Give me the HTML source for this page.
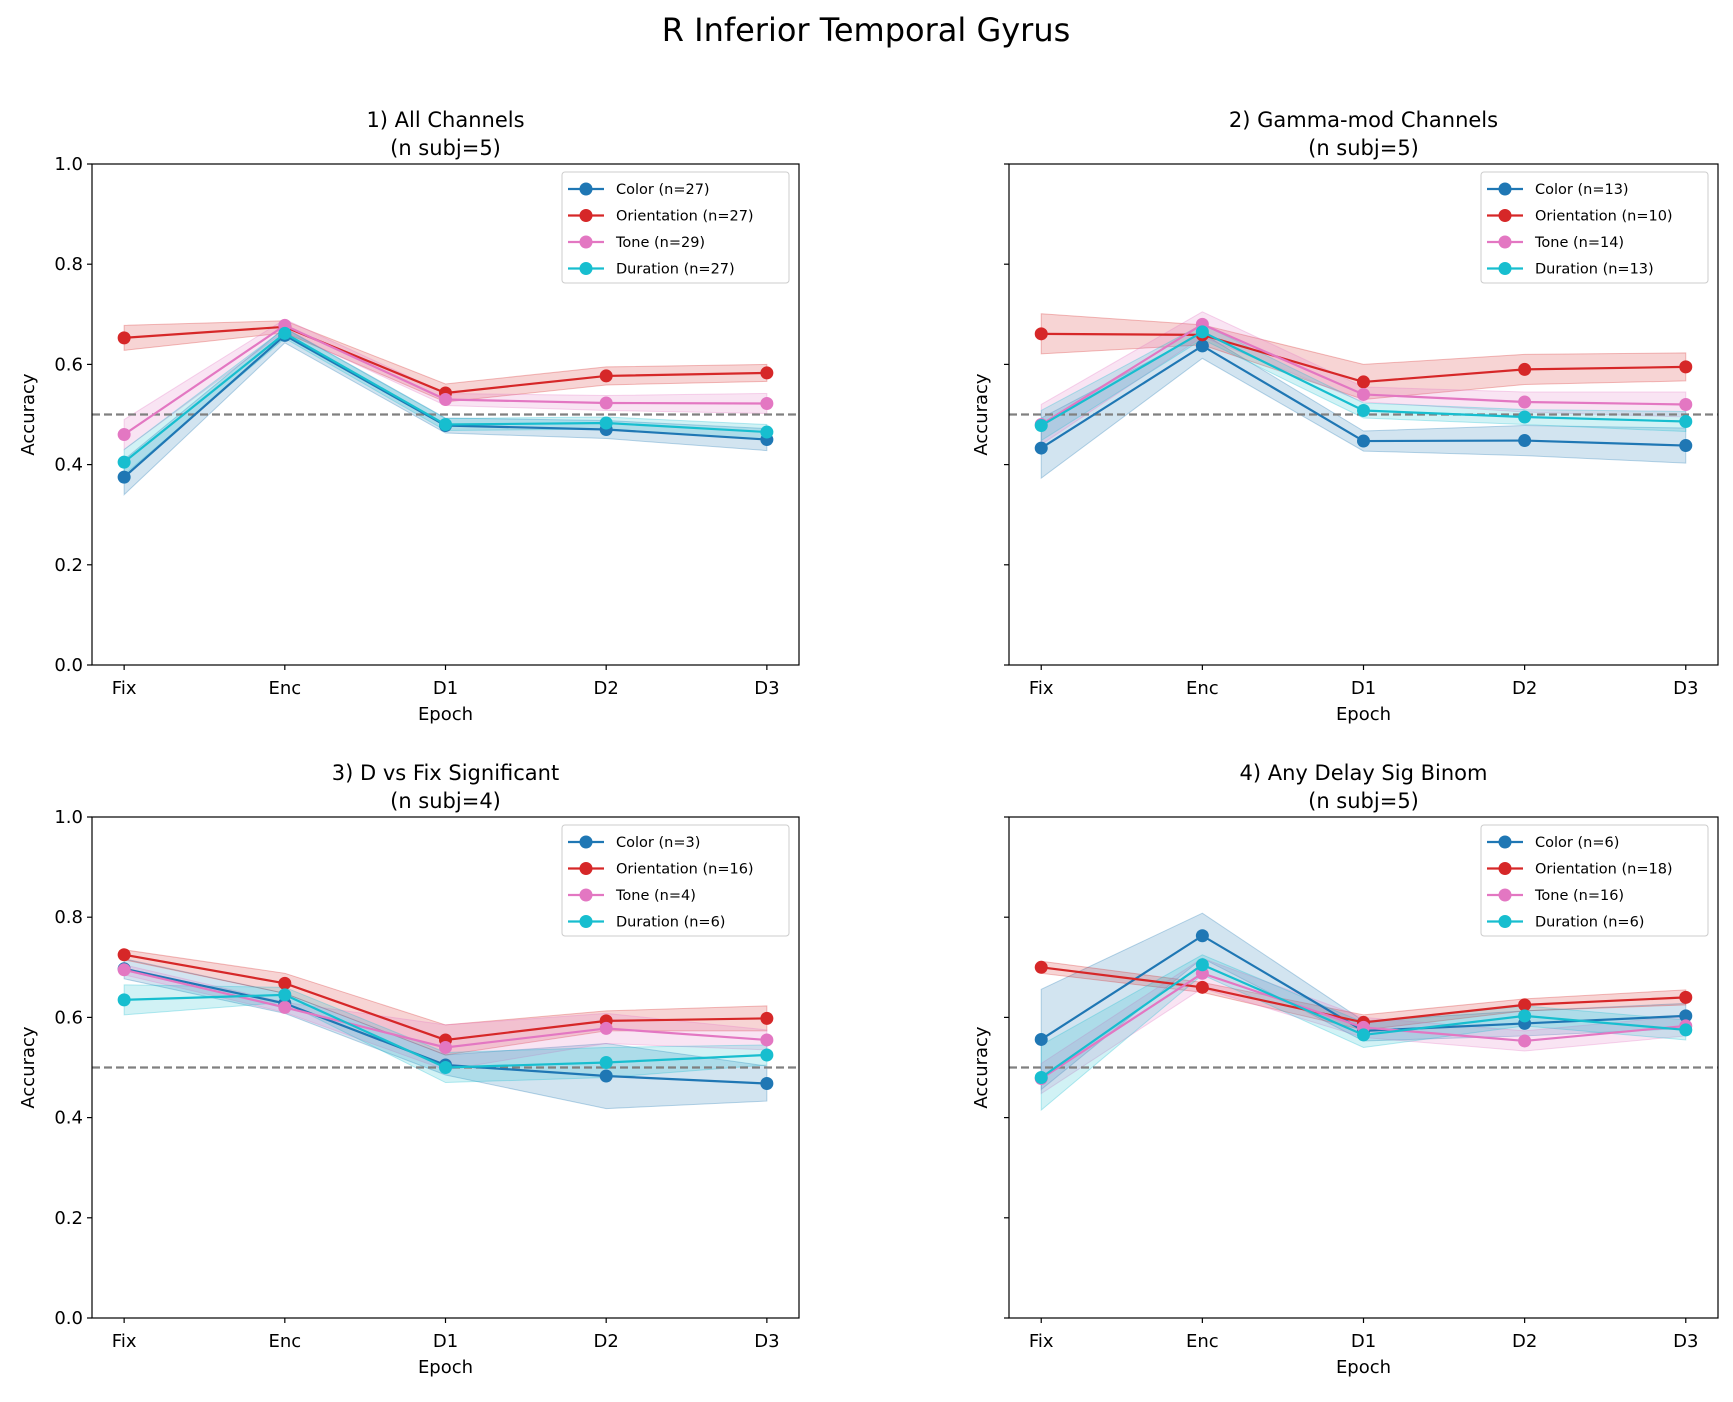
<!DOCTYPE html>
<html><head><meta charset="utf-8"><style>
body{margin:0;background:#fff}
svg text{font-family:"DejaVu Sans","Liberation Sans",sans-serif;fill:#000}
</style></head><body>
<svg id="fig" width="1733" height="1397" viewBox="0 0 1733 1397" xmlns="http://www.w3.org/2000/svg">
<rect width="1733" height="1397" fill="#fff"/>
<text x="866" y="41" font-size="32" text-anchor="middle">R Inferior Temporal Gyrus</text>
</svg>
<script>
const categories=["Fix","Enc","D1","D2","D3"];
const yTicks=[0,0.2,0.4,0.6,0.8,1.0];
const seriesNames=["Color","Orientation","Tone","Duration"];
const colors=["#1f77b4","#d62728","#e377c2","#17becf"];
const panelTitles=["1) All Channels","2) Gamma-mod Channels","3) D vs Fix Significant","4) Any Delay Sig Binom"];
const panelSubj=[5,5,4,5];
const nCounts=[[27,27,29,27],[13,10,14,13],[3,16,4,6],[6,18,16,6]];
const p1Mean=[[0.375,0.658,0.478,0.470,0.450],[0.653,0.675,0.543,0.577,0.583],[0.460,0.678,0.530,0.523,0.522],[0.405,0.662,0.480,0.483,0.465]];
const p1Err=[[0.035,0.015,0.015,0.018,0.022],[0.025,0.012,0.018,0.018,0.017],[0.03,0.012,0.012,0.015,0.02],[0.025,0.01,0.012,0.012,0.015]];
const p2Mean=[[0.433,0.637,0.447,0.448,0.438],[0.661,0.659,0.565,0.590,0.595],[0.480,0.680,0.540,0.525,0.520],[0.478,0.665,0.508,0.495,0.486]];
const p2Err=[[0.06,0.025,0.02,0.03,0.035],[0.04,0.02,0.035,0.03,0.028],[0.04,0.025,0.015,0.02,0.025],[0.03,0.015,0.015,0.015,0.02]];
const p3Mean=[[0.697,0.628,0.505,0.483,0.468],[0.725,0.668,0.555,0.593,0.598],[0.695,0.620,0.540,0.578,0.555],[0.635,0.645,0.500,0.510,0.525]];
const p3Err=[[0.02,0.02,0.02,0.065,0.035],[0.01,0.02,0.03,0.02,0.025],[0.01,0.01,0.045,0.03,0.02],[0.03,0.015,0.03,0.03,0.02]];
const p4Mean=[[0.556,0.763,0.573,0.588,0.603],[0.700,0.660,0.590,0.625,0.640],[0.478,0.688,0.580,0.553,0.583],[0.480,0.705,0.565,0.603,0.575]];
const p4Err=[[0.1,0.045,0.02,0.025,0.025],[0.012,0.01,0.015,0.012,0.015],[0.03,0.03,0.02,0.02,0.02],[0.065,0.02,0.025,0.02,0.02]];
const chance=0.5;

const svg=document.getElementById('fig');
const NS="http://www.w3.org/2000/svg";
function mk(tag,attrs,parent){const e=document.createElementNS(NS,tag);for(const k in attrs)e.setAttribute(k,attrs[k]);(parent||svg).appendChild(e);return e;}
const boxes=[[92,164,799,665],[1009,164,1718,665],[92,817,799,1318],[1009,817,1718,1318]];
const means=[p1Mean,p2Mean,p3Mean,p4Mean];
const errs=[p1Err,p2Err,p3Err,p4Err];

boxes.forEach((b,pi)=>{
  const [L,T,R,B]=b;
  const g=mk('g',{});
  
  
  const xs=i=>L+(R-L)*(i+0.2)/4.4;
  const ys=v=>B-(B-T)*v;
  const cx=(L+R)/2;
  let t=mk('text',{x:cx,y:T-37,'font-size':21,'text-anchor':'middle'},g);t.textContent=panelTitles[pi];
  
  t=mk('text',{x:cx,y:T-9,'font-size':21,'text-anchor':'middle'},g);t.textContent='(n subj='+panelSubj[pi]+')';
  
  means[pi].forEach((m,si)=>{
    const e=errs[pi][si];
    let d='';
    m.forEach((v,i)=>{d+=(i?'L':'M')+xs(i)+','+ys(v+e[i]);});
    for(let i=m.length-1;i>=0;i--)d+='L'+xs(i)+','+ys(m[i]-e[i]);
    const p=mk('path',{d:d+'Z',fill:colors[si],'fill-opacity':0.2,stroke:colors[si],'stroke-opacity':0.3,'stroke-width':1},g);
    
    
  });
  let cl=mk('line',{x1:L,x2:R,y1:ys(chance),y2:ys(chance),stroke:'#808080','stroke-width':2.2,'stroke-dasharray':'8,4'},g);
  
  means[pi].forEach((m,si)=>{
    const pl=mk('polyline',{points:m.map((v,i)=>xs(i)+','+ys(v)).join(' '),fill:'none',stroke:colors[si],'stroke-width':2.2},g);
    
    
    m.forEach((v,i)=>{
      const c=mk('circle',{cx:xs(i),cy:ys(v),r:6.5,fill:colors[si]},g);
      
      
    });
  });
  const fr=mk('rect',{x:L,y:T,width:R-L,height:B-T,fill:'none',stroke:'#000','stroke-width':1.2},g);
  
  yTicks.forEach(v=>{
    mk('line',{x1:L-5,x2:L,y1:ys(v),y2:ys(v),stroke:'#000','stroke-width':1.2},g);
    if(pi%2===0){const tt=mk('text',{x:L-9,y:ys(v)+6,'font-size':18,'text-anchor':'end'},g);tt.textContent=v.toFixed(1);
      }
  });
  categories.forEach((c,i)=>{
    mk('line',{x1:xs(i),x2:xs(i),y1:B,y2:B+5,stroke:'#000','stroke-width':1.2},g);
    const tt=mk('text',{x:xs(i),y:B+29,'font-size':18,'text-anchor':'middle'},g);tt.textContent=c;
    
  });
  t=mk('text',{x:cx,y:B+55,'font-size':18,'text-anchor':'middle'},g);t.textContent='Epoch';
  
  const ax=L-(pi%2===0?58:22), ay=(T+B)/2;
  t=mk('text',{x:ax,y:ay,'font-size':18,'text-anchor':'middle',transform:'rotate(-90 '+ax+' '+ay+')'},g);t.textContent='Accuracy';
  
  const lg=mk('g',{},g);
  
  const lw=227,lh=111,lx=R-10-lw,ly=T+8;
  mk('rect',{x:lx,y:ly,width:lw,height:lh,rx:3,fill:'#fff','fill-opacity':0.8,stroke:'#ccc','stroke-width':1},lg);
  seriesNames.forEach((n,si)=>{
    const yy=ly+17+si*26.5;
    const en=mk('g',{},lg);
    
    mk('line',{x1:lx+6,x2:lx+42,y1:yy,y2:yy,stroke:colors[si],'stroke-width':2.2},en);
    mk('circle',{cx:lx+24,cy:yy,r:6.5,fill:colors[si]},en);
    const tt=mk('text',{x:lx+54,y:yy+5,'font-size':14.5},en);tt.textContent=n+' (n='+nCounts[pi][si]+')';
  });
});
</script>
</body></html>
